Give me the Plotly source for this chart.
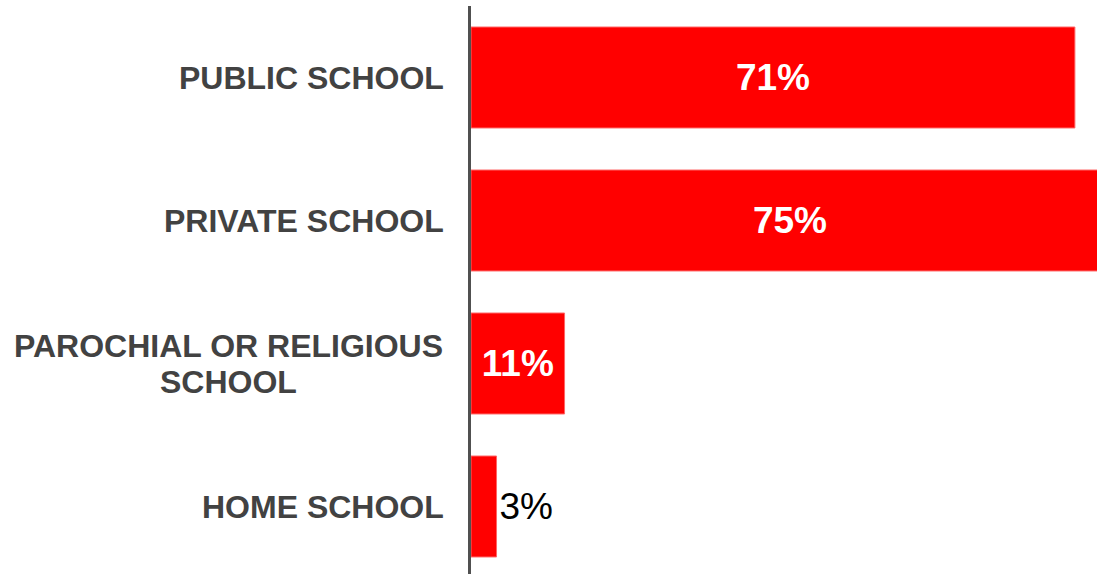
import plotly.graph_objects as go

categories = ["PUBLIC SCHOOL", "PRIVATE SCHOOL", "PAROCHIAL OR RELIGIOUS<br>SCHOOL", "HOME SCHOOL"]
values = [71, 75, 11, 3]
labels = [f"{v}%" for v in values]
text_positions = ["inside", "inside", "inside", "outside"]

FONT = "Liberation Sans, Arial, sans-serif"
LABEL_SIZE = 32
LINE_GAP = 36          # px between lines of a wrapped category label
MULTI_LINE_WIDTH = 427 # px width of the widest wrapped line
GAP = 25               # px shift of single-line labels from axis
GAP_MULTI = 29

fig = go.Figure()
fig.add_trace(go.Bar(
    y=list(range(len(categories))),
    x=values,
    orientation="h",
    marker=dict(color="#ff0000", line=dict(color="#ff6666", width=1)),
    text=labels,
    textposition=text_positions,
    insidetextanchor="middle",
    insidetextfont=dict(family=FONT, size=37, color="white", weight="bold"),
    outsidetextfont=dict(family=FONT, size=37, color="black", weight="normal"),
    constraintext="none",
    cliponaxis=True,
    hoverinfo="skip",
))

for i, c in enumerate(categories):
    lines = c.split("<br>")
    n = len(lines)
    for j, line in enumerate(lines):
        yshift = ((n - 1) / 2 - j) * LINE_GAP
        if n == 1:
            xanchor, xshift = "right", -GAP
        else:
            xanchor, xshift = "center", -GAP_MULTI - MULTI_LINE_WIDTH / 2
        fig.add_annotation(
            x=0, xref="paper", y=i, yref="y",
            text=line, showarrow=False,
            xanchor=xanchor, yanchor="middle", xshift=xshift, yshift=yshift,
            font=dict(family=FONT, size=LABEL_SIZE, color="#424242", weight="bold"),
        )

fig.update_layout(
    width=1097, height=574,
    margin=dict(l=471, r=0, t=6, b=0),
    plot_bgcolor="white", paper_bgcolor="white",
    bargap=0.294,
    showlegend=False,
    xaxis=dict(range=[0, 73.6], visible=False, fixedrange=True),
    yaxis=dict(range=[3.472, -0.5], showticklabels=False, showgrid=False,
               zeroline=False, showline=True, linecolor="#505050", linewidth=3,
               ticks="", fixedrange=True),
)

fig.write_html(
    "out.html",
    config={"displayModeBar": False, "staticPlot": True},
    post_script="document.body.style.margin='0';document.body.style.overflow='hidden';",
)
